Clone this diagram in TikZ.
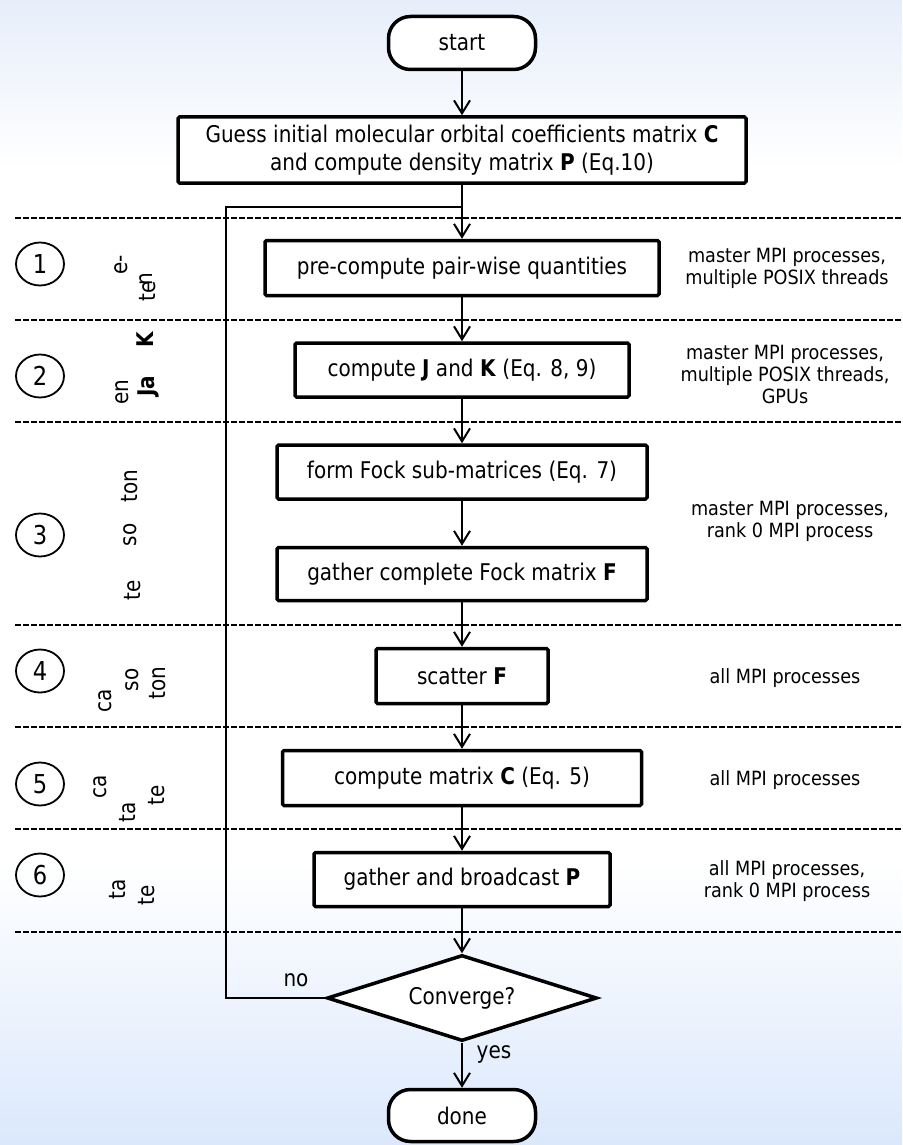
\documentclass[tikz,border=0pt]{standalone}
\usepackage{fontspec}
\setmainfont{DejaVu Sans}[FakeStretch=0.87]
\newfontfamily\sidefam{DejaVu Sans}[FakeStretch=0.9]
\usetikzlibrary{arrows.meta,shapes.geometric}

\definecolor{bgtop}{RGB}{230,238,250}
\definecolor{bgbot}{RGB}{219,232,252}
\pgfdeclareverticalshading{pagebg}{100bp}{color(0bp)=(bgbot); color(25bp)=(bgbot); color(37.4bp)=(white); color(67.6bp)=(white); color(75bp)=(bgtop); color(100bp)=(bgtop)}

\newcommand\mainfs{\fontsize{23}{28}\selectfont}
\newcommand\sidefs{\sidefam\fontsize{19.6}{22}\selectfont}
\newcommand\numfs{\fontsize{26}{28}\selectfont}

\tikzset{
  stepbox/.style={draw, line width=3.5pt, fill=white, rounded corners=1.5pt,
    inner sep=0pt, align=center, font=\mainfs},
  terminal/.style={draw, line width=3.5pt, fill=white, rounded corners=22pt,
    minimum width=147pt, minimum height=53pt, inner sep=0pt, font=\mainfs},
  decision/.style={draw, diamond, aspect=3, line width=3.5pt, fill=white,
    minimum width=270pt, minimum height=86pt, inner sep=0pt, font=\mainfs},
  stage/.style={draw, ellipse, line width=1.8pt, minimum width=48pt,
    minimum height=43pt, inner sep=0pt, font=\numfs},
  note/.style={align=center, inner sep=0pt, font=\sidefs},
  lbl/.style={inner sep=0pt, font=\mainfs},
  blob/.style={rotate=90, inner sep=0pt, font=\mainfs},
  sep/.style={line width=2.8pt, dash pattern=on 5.5pt off 2.5pt},
  link/.style={line width=2pt},
  flow/.style={line width=2pt, -{Straight Barb[length=13pt,width=16pt,line width=2pt]}}
}

\begin{document}
\begin{tikzpicture}[x=1pt,y=-1pt]
  % page background
  \shade[shading=pagebg] (0,0) rectangle (902,1145);
  \useasboundingbox (0,0) rectangle (902,1145);

  % stage separators
  \foreach \yy in {218,320,422,625,727,829,932}
    \draw[sep] (15,\yy) -- (902,\yy);

  % stage numbers
  \node[stage] (s1) at (40,264) {1};
  \node[stage] (s2) at (40,376) {2};
  \node[stage] (s3) at (40,535) {3};
  \node[stage] (s4) at (40,671) {4};
  \node[stage] (s5) at (40,784) {5};
  \node[stage] (s6) at (40,875) {6};

  % vertical stage captions
  \node[blob] (c1a) at (121,265) {e-};
  \node[blob] (c1b) at (146,279) {n};
  \node[blob] (c1c) at (148,291) {te};
  \node[blob] (c2a) at (145,339) {\textbf{K}};
  \node[blob] (c2b) at (148,386) {\textbf{Ja}};
  \node[blob] (c2c) at (122,392) {en};
  \node[blob] (c3a) at (130,486) {ton};
  \node[blob] (c3b) at (130,535) {so};
  \node[blob] (c3c) at (133,590) {te};
  \node[blob] (c4a) at (105,701) {ca};
  \node[blob] (c4b) at (132,680) {so};
  \node[blob] (c4c) at (158,683) {ton};
  \node[blob] (c5a) at (100,787) {ca};
  \node[blob] (c5b) at (128,812) {ta};
  \node[blob] (c5c) at (157,795) {te};
  \node[blob] (c6a) at (118,889) {ta};
  \node[blob] (c6b) at (147,895) {te};

  % flow chart
  \node[terminal] (start) at (462,43) {start};
  \node[stepbox, minimum width=568pt, minimum height=66pt] (init) at (462,150)
    {Guess initial molecular orbital coefficients matrix \textbf{C}\\and compute density matrix \textbf{P} (Eq.10)};
  \node[stepbox, minimum width=394pt, minimum height=55pt] (pre) at (462,268)
    {pre-compute pair-wise quantities};
  \node[stepbox, minimum width=334pt, minimum height=54pt] (jk) at (462,370)
    {compute \textbf{J} and \textbf{K} (Eq. 8, 9)};
  \node[stepbox, minimum width=370pt, minimum height=54pt] (fock) at (462,472)
    {form Fock sub-matrices (Eq. 7)};
  \node[stepbox, minimum width=370pt, minimum height=53pt] (gatherF) at (462,574)
    {gather complete Fock matrix \textbf{F}};
  \node[stepbox, minimum width=172pt, minimum height=55pt] (scatter) at (462,676)
    {scatter \textbf{F}};
  \node[stepbox, minimum width=359pt, minimum height=55pt] (compC) at (462,778)
    {compute matrix \textbf{C} (Eq. 5)};
  \node[stepbox, minimum width=296pt, minimum height=54pt] (bcast) at (462,879.5)
    {gather and broadcast \textbf{P}};
  \node[decision] (conv) at (462,998) {Converge?};
  \node[terminal, minimum height=52pt] (done) at (462,1115.5) {done};

  % resources used in each stage
  \node[note] (n1) at (787,268) {master MPI processes,\\multiple POSIX threads};
  \node[note] (n2) at (785,374) {master MPI processes,\\multiple POSIX threads,\\GPUs};
  \node[note] (n3) at (790,521) {master MPI processes,\\rank 0 MPI process};
  \node[note] (n4) at (785,678) {all MPI processes};
  \node[note] (n5) at (785,780) {all MPI processes};
  \node[note] (n6) at (787,881) {all MPI processes,\\rank 0 MPI process};

  % connectors
  \coordinate (join) at (462,207);
  \coordinate (loopc) at (226,998);
  \draw[flow] (start) -- (init);
  \draw[flow] (init) -- (pre);
  \draw[flow] (pre) -- (jk);
  \draw[flow] (jk) -- (fock);
  \draw[flow] (fock) -- (gatherF);
  \draw[flow] (gatherF) -- (scatter);
  \draw[flow] (scatter) -- (compC);
  \draw[flow] (compC) -- (bcast);
  \draw[flow] (bcast) -- (conv);
  \draw[flow] (conv) -- (done);
  \draw[link] (conv.west) -- (loopc) |- (join);

  \node[lbl] (nolbl) at (296,980) {no};
  \node[lbl] (yeslbl) at (494,1054) {yes};
\end{tikzpicture}
\end{document}
